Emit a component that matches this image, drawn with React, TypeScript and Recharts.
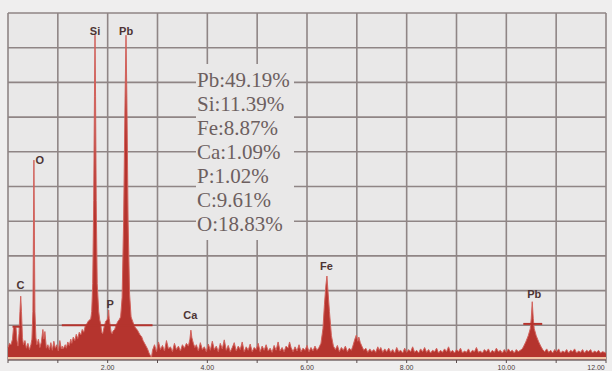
import React from 'react'
import {
  AreaChart,
  Area,
  XAxis,
  YAxis,
  CartesianGrid,
  ReferenceLine,
  ReferenceDot
} from 'recharts'

// EDS spectrum, [keV, counts]
const lowRange: [number, number][] = [
  [0.0, 18], [0.03, 24], [0.06, 22], [0.09, 30], [0.11, 46], [0.13, 48], [0.16, 47], [0.18, 28],
  [0.2, 20], [0.22, 38], [0.24, 70], [0.255, 92], [0.27, 70], [0.29, 32], [0.31, 22], [0.34, 28],
  [0.37, 17], [0.4, 24], [0.43, 15], [0.46, 22], [0.48, 30], [0.5, 70], [0.51, 180], [0.52, 288],
  [0.53, 180], [0.54, 70], [0.56, 32],
  [0.58, 22], [0.61, 30], [0.64, 18], [0.67, 26], [0.7, 44], [0.72, 30], [0.74, 41], [0.77, 17],
  [0.8, 22], [0.83, 15], [0.86, 25], [0.89, 14], [0.92, 27], [0.95, 17], [0.98, 22], [1.01, 13],
  [1.04, 28], [1.07, 16], [1.09, 20], [1.1, 16], [1.11, 17],
  // the big lump under Si / P / Pb
  [1.12, 18], [1.15, 22], [1.17, 17], [1.2, 26], [1.23, 21], [1.26, 30], [1.28, 24], [1.31, 33],
  [1.34, 28], [1.37, 37], [1.4, 31], [1.43, 40], [1.46, 36], [1.49, 44], [1.52, 40], [1.55, 49],
  [1.58, 52], [1.61, 56], [1.64, 58], [1.66, 59], [1.68, 70],
  [1.7, 110], [1.72, 230], [1.735, 380], [1.746, 468], [1.757, 380], [1.77, 230], [1.79, 110],
  [1.82, 70], [1.84, 58], [1.86, 52], [1.88, 40], [1.9, 38], [1.93, 48], [1.96, 56], [1.99, 58],
  [2.01, 64], [2.02, 72], [2.03, 60], [2.05, 50], [2.07, 40], [2.09, 38], [2.11, 42], [2.14, 44],
  [2.17, 50], [2.2, 55], [2.23, 58], [2.26, 62],
  [2.29, 90], [2.32, 200], [2.35, 380], [2.368, 468], [2.385, 380], [2.41, 200], [2.44, 95],
  [2.47, 62], [2.5, 56], [2.53, 50], [2.56, 46], [2.59, 44], [2.62, 40], [2.65, 36], [2.68, 34],
  [2.71, 28], [2.74, 24], [2.77, 20], [2.8, 16], [2.83, 10], [2.86, 6], [2.88, 4]
]

const midRange: [number, number][] = [
  [2.9, 14], [2.94, 22], [2.98, 12], [3.02, 26], [3.06, 15], [3.1, 21], [3.14, 13], [3.18, 28],
  [3.22, 16], [3.26, 19], [3.3, 12], [3.34, 24], [3.38, 15], [3.42, 20], [3.46, 13], [3.5, 22],
  [3.54, 17], [3.58, 24], [3.62, 20], [3.65, 30], [3.67, 43], [3.69, 32], [3.72, 24], [3.75, 18],
  [3.78, 22], [3.82, 13], [3.86, 25], [3.9, 15], [3.94, 19], [3.98, 12], [4.02, 23], [4.06, 14],
  [4.1, 27], [4.14, 15], [4.18, 20], [4.22, 12], [4.26, 24], [4.3, 16], [4.34, 29], [4.38, 14],
  [4.42, 21], [4.46, 12], [4.5, 18], [4.54, 25], [4.58, 13], [4.62, 20], [4.66, 15], [4.7, 26],
  [4.74, 12], [4.78, 19], [4.82, 14], [4.86, 23], [4.9, 12], [4.94, 18], [4.98, 15], [5.02, 24],
  [5.06, 12], [5.1, 20], [5.14, 14], [5.18, 22], [5.22, 13], [5.26, 17], [5.3, 11], [5.34, 21],
  [5.38, 14], [5.42, 26], [5.46, 13], [5.5, 18], [5.54, 12], [5.58, 20], [5.62, 17], [5.65, 26],
  [5.68, 18], [5.72, 12], [5.76, 19], [5.8, 13], [5.84, 22], [5.88, 12], [5.92, 17], [5.96, 14],
  [6.0, 21], [6.04, 12], [6.08, 18], [6.12, 13], [6.16, 20], [6.2, 14], [6.24, 18], [6.28, 24],
  [6.32, 45], [6.35, 80], [6.38, 108], [6.4, 121], [6.42, 100], [6.45, 70], [6.49, 35], [6.53, 20],
  [6.57, 15], [6.61, 21], [6.65, 12], [6.69, 18], [6.73, 14], [6.77, 20], [6.81, 12], [6.85, 17],
  [6.89, 14], [6.92, 20], [6.96, 30], [6.99, 36], [7.02, 27], [7.04, 33], [7.07, 25], [7.1, 20],
  [7.14, 14], [7.18, 17], [7.22, 11], [7.26, 16], [7.3, 12], [7.34, 15], [7.38, 11], [7.42, 19],
  [7.45, 14], [7.48, 18], [7.52, 11], [7.56, 16]
]

const highRange: [number, number][] = [
  [7.6, 12], [7.64, 17], [7.68, 11], [7.72, 15], [7.76, 10], [7.8, 18], [7.84, 12], [7.88, 14],
  [7.92, 10], [7.96, 17], [8.0, 11], [8.04, 15], [8.08, 12], [8.12, 19], [8.16, 11], [8.2, 14],
  [8.24, 10], [8.28, 16], [8.32, 12], [8.36, 18], [8.4, 11], [8.44, 15], [8.48, 10], [8.52, 14],
  [8.56, 12], [8.6, 17], [8.64, 10], [8.68, 14], [8.72, 11], [8.76, 16], [8.8, 12], [8.84, 19],
  [8.88, 11], [8.92, 14], [8.96, 10], [9.0, 15], [9.04, 12], [9.08, 17], [9.12, 10], [9.16, 13],
  [9.2, 11], [9.24, 16], [9.28, 10], [9.32, 14], [9.36, 12], [9.4, 18], [9.44, 11], [9.48, 13],
  [9.52, 10], [9.56, 15], [9.6, 12], [9.64, 16], [9.68, 10], [9.72, 14], [9.76, 11], [9.8, 17],
  [9.84, 12], [9.88, 14], [9.92, 10], [9.96, 15], [10.0, 11], [10.04, 16], [10.08, 12], [10.12, 14],
  [10.16, 10], [10.2, 15], [10.24, 12], [10.28, 14], [10.32, 16], [10.35, 20], [10.39, 26],
  [10.44, 35], [10.48, 45], [10.5, 60], [10.52, 84], [10.54, 60], [10.56, 45], [10.6, 35],
  [10.65, 26], [10.69, 20], [10.73, 15], [10.77, 12], [10.81, 16], [10.85, 11], [10.89, 14],
  [10.93, 10], [10.97, 15], [11.01, 12], [11.05, 16], [11.09, 10], [11.13, 13], [11.17, 11],
  [11.21, 15], [11.25, 10], [11.29, 14], [11.33, 12], [11.37, 16], [11.41, 10], [11.45, 13],
  [11.49, 11], [11.53, 15], [11.57, 10], [11.61, 14], [11.65, 12], [11.69, 15], [11.73, 10],
  [11.77, 13], [11.81, 11], [11.85, 14], [11.89, 10], [11.93, 12], [11.97, 11], [12.0, 10]
]

const spectrum = [...lowRange, ...midRange, ...highRange].map(([keV, counts]) => ({ keV, counts }))

const energyTicks = [0, 1, 2, 3, 4, 5, 6, 7, 8, 9, 10, 11, 12]
const countTicks = [0, 50, 100, 150, 200, 250, 300, 350, 400, 450, 500]
const countLabels: Record<number, string> = {
  500: 'Counts', 450: '450', 400: '400', 350: '350', 300: '300',
  250: '250', 200: '200', 150: '150', 100: '100'
}

// element markers (label centre in keV / counts)
const peakLabels = [
  { name: 'Si', keV: 1.746, counts: 474 },
  { name: 'Pb', keV: 2.37, counts: 474 },
  { name: 'O', keV: 0.64, counts: 288 },
  { name: 'C', keV: 0.25, counts: 108 },
  { name: 'P', keV: 2.05, counts: 81 },
  { name: 'Ca', keV: 3.66, counts: 65 },
  { name: 'Fe', keV: 6.39, counts: 136 },
  { name: 'Pb', keV: 10.56, counts: 95 }
]

// flat caps that sit on top of some peaks in the scan
const flatCaps = [
  { from: 0.09, to: 0.27, counts: 48 },
  { from: 1.08, to: 2.9, counts: 50 },
  { from: 10.34, to: 10.72, counts: 52 }
]

const composition = [
  { el: 'Pb', pct: '49.19' },
  { el: 'Si', pct: '11.39' },
  { el: 'Fe', pct: '8.87' },
  { el: 'Ca', pct: '1.09' },
  { el: 'P', pct: '1.02' },
  { el: 'C', pct: '9.61' },
  { el: 'O', pct: '18.83' }
]

const RED = '#b5342e'
const GRID = '#8f8585'

const EnergyTick = ({ x, payload }: any) => {
  const v = payload.value
  if (v === 0 || v % 2 !== 0) return <g />
  return (
    <text x={Math.min(x, 596)} y={370} textAnchor="middle" fontSize={7} fontFamily="Liberation Sans" fill="#4a3c3c">
      {v.toFixed(2)}
    </text>
  )
}

const CountTick = ({ x, y, payload }: any) => {
  const label = countLabels[payload.value]
  if (!label) return <g />
  return (
    <text x={x + 4} y={y + 6} fontSize={5} fontFamily="Liberation Sans" fill="#7a6a6a">
      {label}
    </text>
  )
}

export default function App() {
  return (
    <div style={{ position: 'absolute', left: 0, top: 0, width: 612, height: 371, background: '#efeeee', overflow: 'hidden' }}>
      <AreaChart width={612} height={371} data={spectrum} margin={{ top: 13, right: 6, left: 8, bottom: 0 }}>
        <CartesianGrid stroke={GRID} strokeWidth={1.6} fill="#e9e8e8" />
        <XAxis
          type="number"
          dataKey="keV"
          domain={[0, 12]}
          ticks={energyTicks}
          height={11}
          tickSize={3}
          tick={(props: any) => <EnergyTick {...props} />}
          axisLine={{ stroke: GRID, strokeWidth: 1.6 }}
          tickLine={{ stroke: '#5a4c4c' }}
        />
        <YAxis
          type="number"
          domain={[0, 500]}
          ticks={countTicks}
          width={0}
          tickSize={0}
          tickMargin={0}
          allowDataOverflow
          tick={(props: any) => <CountTick {...props} />}
          axisLine={{ stroke: '#7d7070', strokeWidth: 2 }}
        />
        <ReferenceLine y={3} stroke="#f2c4a6" strokeWidth={2} />
        <Area
          type="linear"
          dataKey="counts"
          fill={RED}
          fillOpacity={1}
          stroke="#d2625c"
          strokeWidth={1}
          dot={false}
          activeDot={false}
          isAnimationActive={false}
        />
        {flatCaps.map((c, i) => (
          <ReferenceLine
            key={`cap-${i}`}
            segment={[{ x: c.from, y: c.counts }, { x: c.to, y: c.counts }]}
            stroke={RED}
            strokeWidth={2}
          />
        ))}
        {peakLabels.map((p, i) => (
          <ReferenceDot
            key={`pk-${i}`}
            x={p.keV}
            y={p.counts}
            r={0}
            fill="none"
            stroke="none"
            label={{
              value: p.name,
              position: 'center',
              fill: '#4d3434',
              fontSize: 11,
              fontWeight: 700,
              fontFamily: 'Liberation Sans'
            }}
          />
        ))}
      </AreaChart>
      <div
        style={{
          position: 'absolute',
          left: 196,
          top: 64,
          width: 98,
          height: 176,
          background: '#e9e8e8',
          paddingTop: 4,
          paddingLeft: 1,
          boxSizing: 'border-box',
          fontFamily: '"Liberation Serif", serif',
          fontSize: 21,
          lineHeight: '24px',
          color: '#6d5f5f',
          whiteSpace: 'nowrap'
        }}
      >
        {composition.map(c => (
          <div key={c.el}>{c.el}:{c.pct}%</div>
        ))}
      </div>
    </div>
  )
}
